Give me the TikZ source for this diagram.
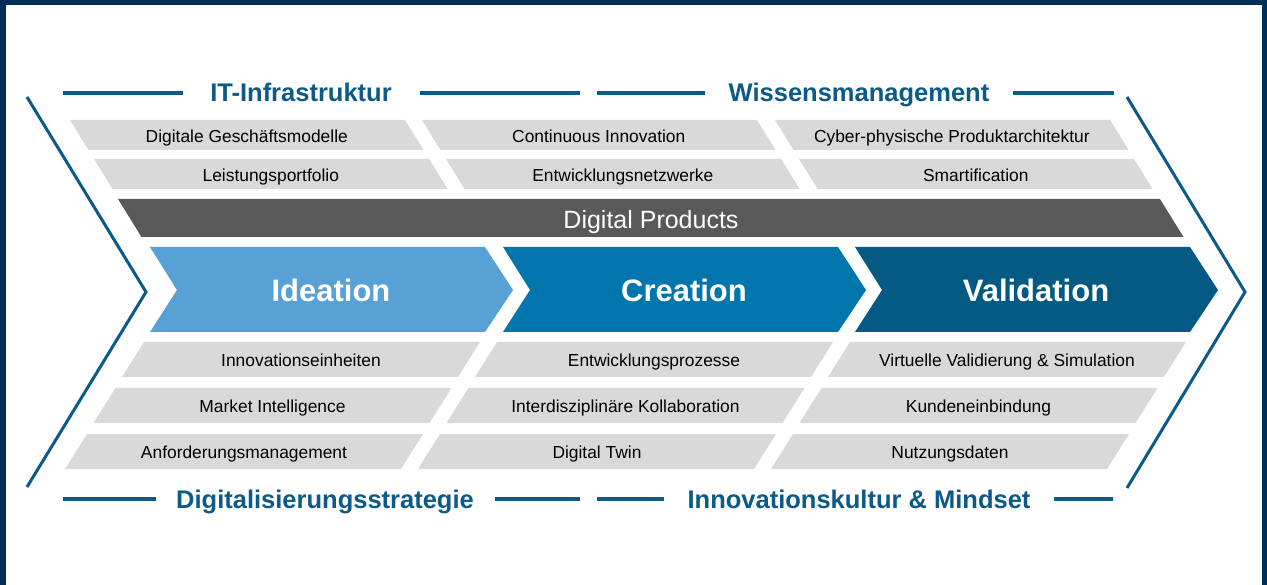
\documentclass[tikz,border=0pt]{standalone}
\usepackage{fontspec}
\setmainfont{Liberation Sans}
\definecolor{navy}{RGB}{0,46,84}
\definecolor{hdblue}{RGB}{11,90,135}
\definecolor{cellgray}{RGB}{217,217,217}
\definecolor{bargray}{RGB}{89,89,89}
\definecolor{ideacol}{RGB}{87,161,212}
\definecolor{creacol}{RGB}{0,118,172}
\definecolor{valcol}{RGB}{4,90,130}

\begin{document}
\begin{tikzpicture}[x=1pt,y=-1pt,
  cell/.style={fill=cellgray},
  celltext/.style={anchor=base,inner sep=0pt,text=black,font=\fontsize{17.4}{20}\selectfont},
  bartext/.style={anchor=base,inner sep=0pt,text=white,font=\fontsize{25}{30}\selectfont},
  phase/.style={anchor=base,inner sep=0pt,text=white,font=\fontsize{31}{36}\selectfont\bfseries},
  heading/.style={anchor=base,inner sep=0pt,text=hdblue,font=\fontsize{25.5}{30}\selectfont\bfseries},
  rule/.style={draw=hdblue,line width=3.5pt},
  chevron/.style={draw=hdblue,line width=3pt,line join=miter}
]
\useasboundingbox (0,0) rectangle (1267,585);
\fill[navy] (0,0) rectangle (1267,585);
\fill[white] (6,5) rectangle (1262,585);

\draw[chevron] (27,97) -- (146,292) -- (27,487);
\draw[chevron] (1127,97) -- (1245,292) -- (1127,488);

\node[heading] (itinfra) at (301,102) {IT-Infrastruktur};
\node[heading] (wissen) at (859,102) {Wissensmanagement};
\node[heading] (digstrat) at (325,508) {Digitalisierungsstrategie};
\node[heading] (kultur) at (859,508) {Innovationskultur \& Mindset};
\foreach \a/\b/\y in {63/183/93, 420/580/93, 597/705/93, 1013/1114/93, 63/156/499, 495/580/499, 597/664/499, 1054/1113/499}
  \draw[rule] (\a,\y) -- (\b,\y);

\foreach \x/\y/\txt [count=\i] in {70/120/Digitale Geschäftsmodelle, 422/120/Continuous Innovation, 775/120/Cyber-physische Produktarchitektur, 94/159/Leistungsportfolio, 446/159/Entwicklungsnetzwerke, 799/159/Smartification} {
  \fill[cell] (\x,\y) -- ++(335,0) -- ++(18.6,30) -- ++(-335,0) -- cycle;
  \node[celltext] (top\i) at (\x+176.8,\y+22.2) {\txt};
}

\fill[bargray] (118,199) -- (1160,199) -- (1183.5,237) -- (141.5,237) -- cycle;
\node[bartext] (digprod) at (651,229) {Digital Products};

\foreach \x/\col/\txt [count=\i] in {150/ideacol/Ideation, 503/creacol/Creation, 855/valcol/Validation} {
  \fill[\col] (\x,247) -- ++(335,0) -- ++(28,43) -- ++(-28,42) -- ++(-335,0) -- ++(27,-42) -- cycle;
  \node[phase] (phase\i) at (\x+181,301.5) {\txt};
}

\foreach \x/\y/\txt [count=\i] in {144/342/Innovationseinheiten, 497/342/Entwicklungsprozesse, 850/342/Virtuelle Validierung \& Simulation, 115.5/388/Market Intelligence, 468.5/388/Interdisziplinäre Kollaboration, 821.5/388/Kundeneinbindung, 87/434/Anforderungsmanagement, 440/434/Digital Twin, 793/434/Nutzungsdaten} {
  \fill[cell] (\x,\y) -- ++(336,0) -- ++(-22,35) -- ++(-336,0) -- cycle;
  \node[celltext] (bot\i) at (\x+157,\y+24.5) {\txt};
}
\end{tikzpicture}
\end{document}
